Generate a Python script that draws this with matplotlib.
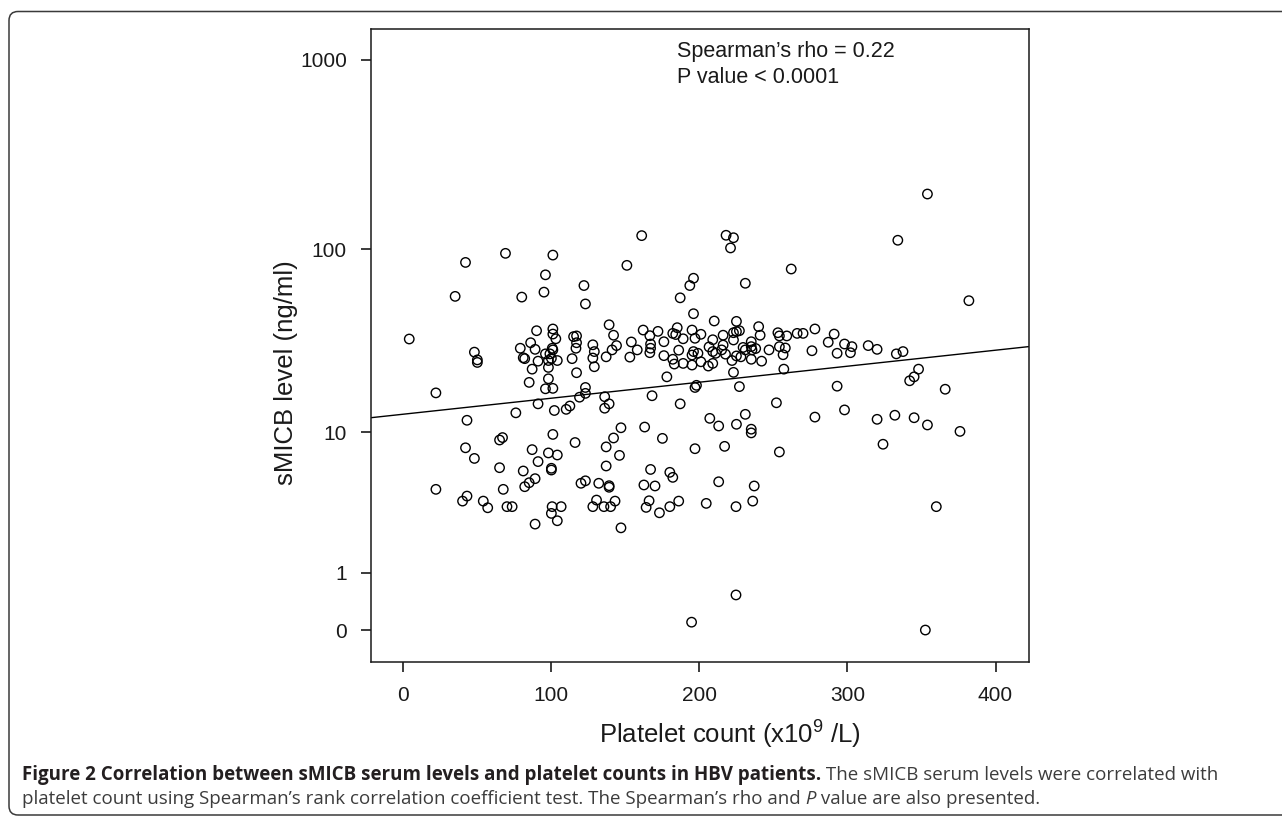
import numpy as np
import matplotlib
matplotlib.use("Agg")
import matplotlib.pyplot as plt
from matplotlib.patches import FancyBboxPatch
from matplotlib.ticker import NullLocator
from matplotlib.transforms import IdentityTransform

# platelet count (x10^9/L) and sMICB level (ng/ml)
platelet = [
    161, 69, 42, 101, 151, 96, 122, 35, 80, 95, 123, 187, 193.5, 196,
    4, 48, 50, 50, 90, 101, 101, 103, 86, 79, 89, 81, 82, 96, 100.6, 101,
    99, 100, 91, 98, 104, 87, 98, 115, 117, 117, 116.6, 114, 117, 85, 98,
    96, 101, 123, 123, 119, 128, 129, 128, 129, 139, 142, 144, 141, 137,
    154, 153, 158, 162, 166.5, 167, 167, 166.5, 172, 176, 176, 182, 184,
    185, 189, 186, 182, 183, 189, 178, 168, 187, 22, 91, 76, 102, 110,
    112.5, 136, 136, 139, 43, 101, 65, 67, 42, 48, 87, 98, 104, 91, 116,
    137, 142, 147, 163, 175, 146, 65, 81, 100, 100, 137, 167, 180, 182,
    354, 218, 223, 221, 334, 262, 382, 231, 196, 210, 225, 240, 195, 201,
    197, 209, 216, 223, 225, 227, 223, 241, 235, 235, 235.5, 238, 229.5,
    231, 216, 215, 217.6, 206.5, 209, 211, 196, 199, 195, 195, 201, 206,
    209, 222, 225, 228, 235, 242, 247, 253, 254, 259, 254, 258, 256.5,
    266, 270, 278, 276, 287, 291, 293, 298, 303, 302, 314, 320, 333,
    337.5, 257, 223, 227, 197, 198, 293, 348, 345, 342, 366, 252, 298,
    278, 207, 213, 231, 225, 235, 235, 320, 332, 345, 354, 376, 324, 197,
    217, 254, 22, 43, 40, 54, 57, 67.5, 70, 73.5, 82, 85, 89, 89, 100.5,
    100, 106.6, 104, 120, 123, 128, 130.5, 135.5, 140, 143, 132, 139, 139,
    147, 162.5, 170, 213, 237, 166, 164, 173, 180, 186, 204.6, 224.7, 236,
    360, 224.7, 194.7, 352.6,
]
smicb = [
    118, 95, 85, 93, 82, 73, 64, 56, 55.5, 59, 51, 55, 64, 70,
    33, 28, 25.4, 24.6, 36.6, 37.4, 35.1, 33.1, 31.5, 29.4, 29, 26.1, 25.8,
    27.4, 29.4, 28.8, 27.4, 25.9, 25, 25.2, 25.2, 22.6, 23.1, 34, 34.3,
    31.5, 29.4, 25.8, 21.6, 19.1, 20, 17.6, 17.7, 17.9, 16.6, 15.8, 30.7,
    28.2, 26, 23.3, 39.4, 34.6, 30.4, 28.8, 26.4, 31.8, 26.3, 28.8, 36.9,
    34.4, 31, 29.4, 27.8, 36.3, 31.9, 26.8, 35.4, 34.9, 38, 33.1, 28.7,
    25.6, 24.1, 24.3, 20.5, 16.1, 14.5, 16.7, 14.5, 12.9, 13.3, 13.5,
    14.1, 15.9, 13.7, 14.5, 11.7, 9.7, 9.0, 9.3, 8.1, 7.0, 7.9, 7.55,
    7.34, 6.7, 8.7, 8.2, 9.25, 10.6, 10.7, 9.2, 7.3, 6.15, 5.87, 6.1,
    5.95, 6.3, 6.0, 5.76, 5.36,
    196, 118.5, 115, 101.5, 111.5, 78.4, 53.1, 65.8, 45.2, 41.3, 41.1,
    38.5, 36.9, 35, 33.3, 32.7, 34.6, 35.7, 36.2, 36.6, 32.6, 34.6, 31.9,
    30, 28.8, 29.3, 29.7, 28.8, 30.6, 28.8, 27.3, 29.9, 28.2, 27.6, 28.2,
    27.6, 27, 23.8, 24.8, 23.5, 24.3, 25.2, 26.7, 26.4, 25.6, 25, 28.8,
    35.7, 34.3, 34.3, 30, 29.5, 27.1, 35.4, 35.4, 37.4, 28.5, 31.7, 35.1,
    27.6, 31, 30, 27.8, 30.4, 29, 27.4, 28.2, 22.6, 21.7, 18.1, 17.9,
    18.4, 18.2, 22.6, 20.5, 19.5, 17.5, 14.7, 13.4, 12.2, 12.0, 10.85,
    12.65, 11.1, 10.4, 9.9, 11.85, 12.5, 12.1, 11.0, 10.1, 8.5, 8.0, 8.26,
    7.65, 4.5, 4.07, 3.77, 3.77, 3.4, 4.5, 3.46, 3.46, 4.68, 4.96, 5.26,
    2.61, 3.46, 3.11, 3.46, 2.76, 4.92, 5.1, 3.46, 3.83, 3.46, 3.46, 3.77,
    4.92, 4.64, 4.75, 2.45, 4.8, 4.73, 5.03, 4.73, 3.79, 3.42, 3.14, 3.46,
    3.77, 3.64, 3.46, 3.77, 3.46, 0.53, 0.1, 0.0,
]

# fitted line (ends at the axis edges)
fit_platelet = [-22, 422.3]
fit_smicb = [12.1, 30.0]

x_ticks = [0, 100, 200, 300, 400]
y_ticks = [0, 1, 10, 100, 1000]

rho_label = "Spearman\u2019s rho = 0.22"
p_label = "P value < 0.0001"

W, H = 1282, 819

plt.rcParams['font.family'] = ['Liberation Sans', 'DejaVu Sans']
plt.rcParams['mathtext.default'] = 'regular'

fig = plt.figure(figsize=(W / 100, H / 100), dpi=100)
fig.patch.set_facecolor('white')
ax = fig.add_axes([0.2892, 0.1917, 0.5131, 0.7729])


def fwd(v):
    return np.log10(np.asarray(v, dtype=float) + 1)


def inv(g):
    return 10 ** np.asarray(g, dtype=float) - 1


# the y axis runs on log10(y + 1), so 0 still has a place
ax.set_yscale('function', functions=(fwd, inv))

ax.scatter(platelet, smicb, s=46, facecolors='none', edgecolors='black',
           linewidths=1.0, zorder=3, clip_on=False)
ax.plot(fit_platelet, fit_smicb, color='black', lw=1.0, zorder=2)

ax.set_xlim(-22, 422.3)
ax.set_ylim(-0.321, 1454)

ax.set_xticks(x_ticks)
ax.set_xticklabels([str(v) for v in x_ticks])
ax.set_yticks(y_ticks)
ax.set_yticklabels([str(v) for v in y_ticks])
ax.yaxis.set_minor_locator(NullLocator())
ax.xaxis.set_minor_locator(NullLocator())
ax.tick_params(direction='out', length=7.2, width=1.2, pad=10,
               labelsize=15, color='#1a1a1a', labelcolor='#1a1a1a')
for sp in ax.spines.values():
    sp.set_linewidth(1.1)
    sp.set_color('#1a1a1a')

ax.set_ylabel('sMICB level (ng/ml)', fontsize=18.5, va='center', color='#1a1a1a')
ax.yaxis.set_label_coords(-0.129, 0.457)
ax.set_xlabel('Platelet count (x10$^{9}$ /L)', fontsize=18.5, va='center',
              color='#1a1a1a')
ax.xaxis.set_label_coords(0.546, -0.115)

fig.text(677 / W, 1 - 57 / H, rho_label, fontsize=15.5, va='baseline',
         ha='left', color='#1a1a1a')
fig.text(677 / W, 1 - 83 / H, p_label, fontsize=15.5, va='baseline',
         ha='left', color='#1a1a1a')

# rounded frame round the whole figure
frame = FancyBboxPatch((9, H - 815), 1400, 815 - 11.5,
                       boxstyle='round,pad=0,rounding_size=9',
                       transform=IdentityTransform(), fill=False,
                       ec='#3a3a3a', lw=1.1)
fig.add_artist(frame)

# caption, written piece by piece
renderer = fig.canvas.get_renderer()
cap_font = ['Open Sans', 'DejaVu Sans']


def caption_line(parts, x_px, base_px):
    x = x_px
    for txt, weight, style, col in parts:
        t = fig.text(x / W, 1 - base_px / H, txt, family=cap_font,
                     fontsize=13.5, fontweight=weight, fontstyle=style,
                     color=col, va='baseline', ha='left')
        x = t.get_window_extent(renderer).x1


caption_line([
    ('Figure 2 Correlation between sMICB serum levels and platelet counts '
     'in HBV patients.', 'bold', 'normal', '#231f20'),
    (' The sMICB serum levels were correlated with', 'normal', 'normal',
     '#3c3c3c'),
], 22, 780)
caption_line([
    ('platelet count using Spearman\u2019s rank correlation coefficient test. '
     'The Spearman\u2019s rho and', 'normal', 'normal', '#3c3c3c'),
    (' P', 'normal', 'italic', '#3c3c3c'),
    (' value are also presented.', 'normal', 'normal', '#3c3c3c'),
], 22, 804)

fig.savefig('out.png', dpi=100, facecolor='white')
